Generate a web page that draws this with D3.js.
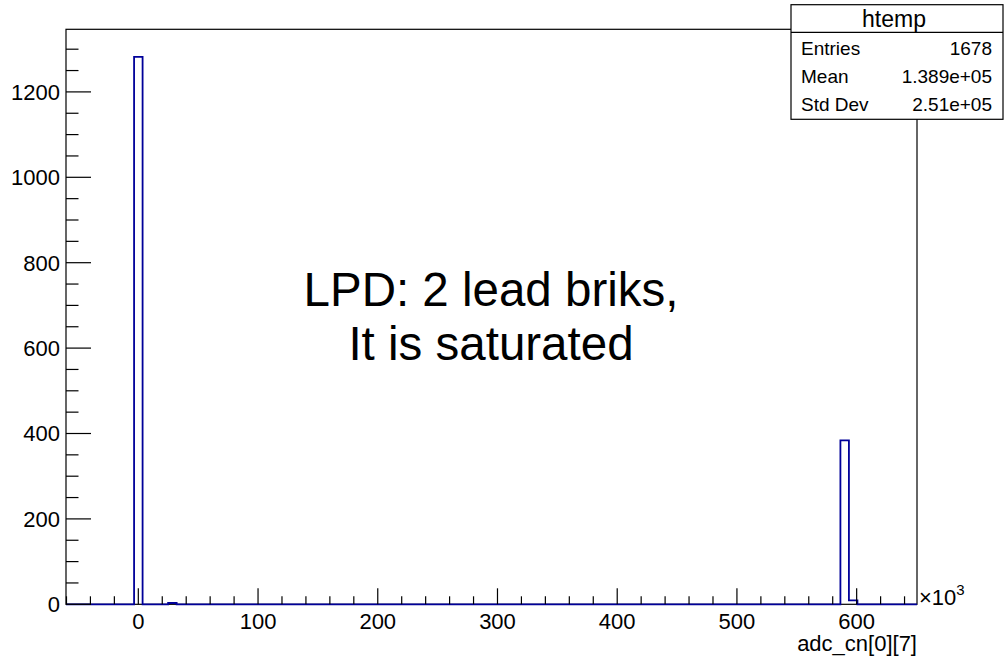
<!DOCTYPE html>
<html>
<head>
  <meta charset="utf-8">
  <title>htemp</title>
  <script src="https://cdnjs.cloudflare.com/ajax/libs/d3/7.8.5/d3.min.js"></script>
  <style>
    body { margin: 0; background: #fff; }
    svg text { font-family: "Liberation Sans", Arial, sans-serif; fill: #000; }
  </style>
</head>
<body>
<div id="canvas"></div>
<script>
  // histogram binning (x in units of 10^3)
  var xMin = -60.4, xMax = 650.4, nBins = 100;
  // only the non-empty bins
  var filledBins = [8, 12, 91, 92];
  var binCounts = [1282, 3, 384, 9];
  var xTicks = [0, 100, 200, 300, 400, 500, 600];
  var yTicks = [0, 200, 400, 600, 800, 1000, 1200];
  var yMax = 1346.6;
  var statNames = ["Entries", "Mean", "Std Dev"];
  var statValues = ["1678", "1.389e+05", "2.51e+05"];
  var noteLines = ["LPD: 2 lead briks,", "It is saturated"];

  var W = 1005, H = 660;
  var frame = { left: 66, right: 917, top: 29.3, bottom: 604.3 };

  var svg = d3.select("#canvas").append("svg")
    .attr("width", W).attr("height", H);

  var x = d3.scaleLinear().domain([xMin, xMax]).range([frame.left, frame.right]);
  var y = d3.scaleLinear().domain([0, yMax]).range([frame.bottom, frame.top]);

  // frame
  svg.append("rect")
    .attr("x", frame.left).attr("y", frame.top)
    .attr("width", frame.right - frame.left).attr("height", frame.bottom - frame.top)
    .attr("fill", "none").attr("stroke", "#000").attr("stroke-width", 1.2);

  // histogram outline
  var counts = d3.range(nBins).map(function () { return 0; });
  filledBins.forEach(function (b, i) { counts[b] = binCounts[i]; });
  var bw = (xMax - xMin) / nBins;
  var pts = [[x(xMin), y(0)]];
  counts.forEach(function (c, i) {
    pts.push([x(xMin + i * bw), y(c)]);
    pts.push([x(xMin + (i + 1) * bw), y(c)]);
  });
  pts.push([x(xMax), y(0)]);
  svg.append("path")
    .attr("d", d3.line()(pts))
    .attr("fill", "none").attr("stroke", "#000099").attr("stroke-width", 1.8);

  // y axis ticks
  var yMinor = d3.range(0, yMax, 50);
  svg.append("g").selectAll("line").data(yMinor).enter().append("line")
    .attr("x1", frame.left).attr("x2", function (d) { return frame.left + (d % 200 === 0 ? 25 : 12.5); })
    .attr("y1", function (d) { return y(d); }).attr("y2", function (d) { return y(d); })
    .attr("stroke", "#000").attr("stroke-width", 1.2);
  svg.append("g").selectAll("text").data(yTicks).enter().append("text")
    .attr("x", frame.left - 6).attr("y", function (d) { return y(d); })
    .attr("dy", "0.36em").attr("text-anchor", "end")
    .style("font-size", "22px").text(function (d) { return d; });

  // x axis ticks
  var xMinor = d3.range(-60, xMax, 20);
  svg.append("g").selectAll("line").data(xMinor).enter().append("line")
    .attr("x1", function (d) { return x(d); }).attr("x2", function (d) { return x(d); })
    .attr("y1", frame.bottom).attr("y2", function (d) { return frame.bottom - (d % 100 === 0 ? 16 : 8); })
    .attr("stroke", "#000").attr("stroke-width", 1.2);
  svg.append("g").selectAll("text").data(xTicks).enter().append("text")
    .attr("x", function (d) { return x(d); }).attr("y", 628.5)
    .attr("text-anchor", "middle")
    .style("font-size", "22px").text(function (d) { return d; });

  // exponent
  var ex = svg.append("text").attr("x", frame.right + 2).attr("y", 605).style("font-size", "22px");
  ex.append("tspan").text("\u00d710");
  ex.append("tspan").attr("dy", -10).style("font-size", "15px").text("3");

  // x title
  svg.append("text").attr("x", frame.right).attr("y", 650.5)
    .attr("text-anchor", "end").style("font-size", "22px").text("adc_cn[0][7]");

  // annotation
  svg.append("g").selectAll("text").data(noteLines).enter().append("text")
    .attr("x", 491).attr("y", function (d, i) { return 306 + i * 54; })
    .attr("text-anchor", "middle").style("font-size", "47.5px").text(function (d) { return d; });

  // stats box
  var box = { x0: 791, x1: 1003, y0: 4.7, y1: 119.3, sep: 32.3 };
  svg.append("rect")
    .attr("x", box.x0).attr("y", box.y0)
    .attr("width", box.x1 - box.x0).attr("height", box.y1 - box.y0)
    .attr("fill", "#fff").attr("stroke", "#000").attr("stroke-width", 1.2);
  svg.append("line")
    .attr("x1", box.x0).attr("x2", box.x1).attr("y1", box.sep).attr("y2", box.sep)
    .attr("stroke", "#000").attr("stroke-width", 1.2);
  svg.append("text").attr("x", (box.x0 + box.x1) / 2 - 3).attr("y", 26.5)
    .attr("text-anchor", "middle").style("font-size", "23px").text("htemp");
  statNames.forEach(function (n, i) {
    var by = 54.5 + i * 28.2;
    svg.append("text").attr("x", 801).attr("y", by).style("font-size", "19px").text(n);
    svg.append("text").attr("x", 992).attr("y", by).attr("text-anchor", "end")
      .style("font-size", "19px").text(statValues[i]);
  });
</script>
</body>
</html>
